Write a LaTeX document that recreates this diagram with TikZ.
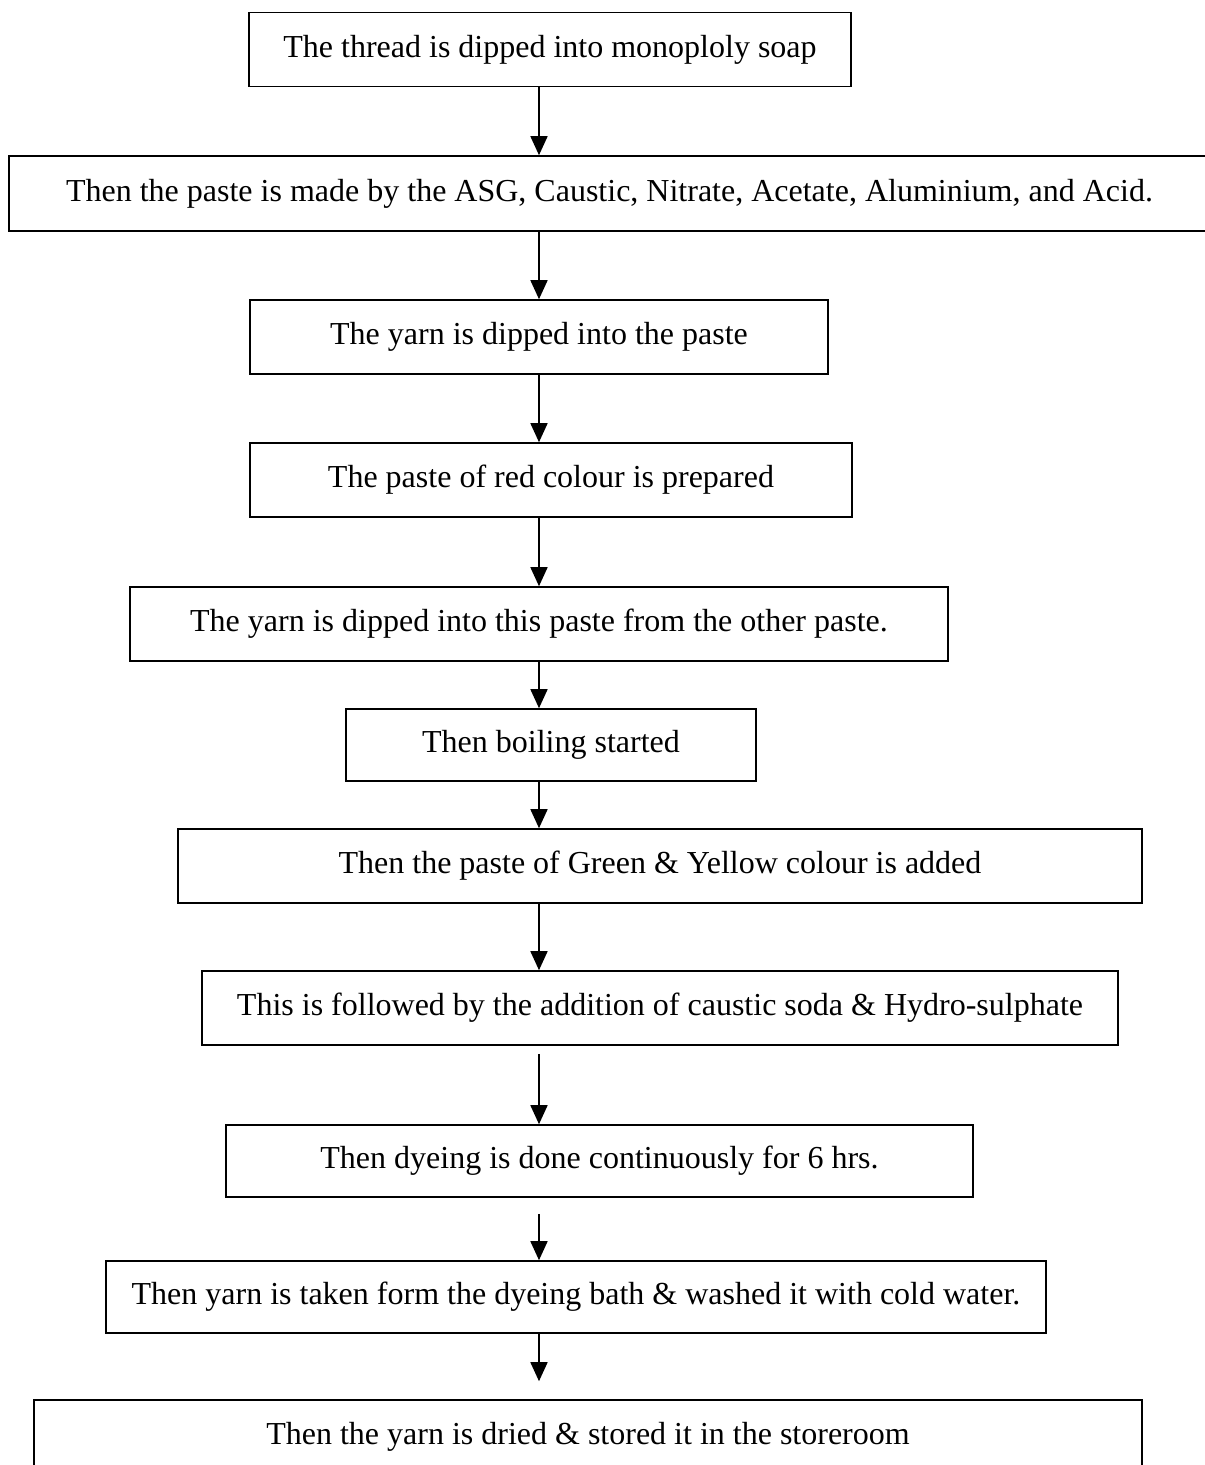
\documentclass[tikz,border=0pt]{standalone}
\usepackage{fontspec}
\setmainfont{Liberation Serif}
\usepackage{tikz}
\usetikzlibrary{arrows.meta}
\definecolor{inkblack}{RGB}{0, 0, 0}

\begin{document}
\begin{tikzpicture}[
    x=1pt, y=-1pt,
    stepbox/.style={draw=inkblack, line width=1.6pt, inner sep=0pt,
                    minimum height=74pt, align=center,
                    font=\fontsize{32}{38}\selectfont},
    flow/.style={draw=inkblack, line width=1.6pt,
                 -{Triangle[length=19pt, width=17pt]}}
]
    \useasboundingbox (0,0) rectangle (1205,1465);
    \coordinate (spine) at (539,0);

    % Steps of the process
    \node[stepbox, minimum width=602pt] (soap) at (550,49.5)
        {The thread is dipped into monoploly soap};
    \node[stepbox, minimum width=1201pt, minimum height=75pt] (paste) at (609.5,193.5)
        {Then the paste is made by the ASG, Caustic, Nitrate, Acetate, Aluminium, and Acid.};
    \node[stepbox, minimum width=578pt] (dip) at (539,337)
        {The yarn is dipped into the paste};
    \node[stepbox, minimum width=602pt] (red) at (551,480)
        {The paste of red colour is prepared};
    \node[stepbox, minimum width=818pt] (redip) at (539,624)
        {The yarn is dipped into this paste from the other paste.};
    \node[stepbox, minimum width=410pt, minimum height=72pt] (boil) at (551,745)
        {Then boiling started};
    \node[stepbox, minimum width=964pt] (green) at (660,866)
        {Then the paste of Green \& Yellow colour is added};
    \node[stepbox, minimum width=916pt] (soda) at (660,1008)
        {This is followed by the addition of caustic soda \& Hydro-sulphate};
    \node[stepbox, minimum width=747pt, minimum height=72pt] (dyeing) at (599.5,1161)
        {Then dyeing is done continuously for 6 hrs.};
    \node[stepbox, minimum width=940pt, minimum height=72pt] (wash) at (576,1297)
        {Then yarn is taken form the dyeing bath \& washed it with cold water.};
    \node[stepbox, minimum width=1108pt] (store) at (588,1437)
        {Then the yarn is dried \& stored it in the storeroom};

    % Arrows down the middle
    \draw[flow] (soap.south -| spine) -- (paste.north -| spine);
    \draw[flow] (paste.south -| spine) -- (dip.north -| spine);
    \draw[flow] (dip.south -| spine) -- (red.north -| spine);
    \draw[flow] (red.south -| spine) -- (redip.north -| spine);
    \draw[flow] (redip.south -| spine) -- (boil.north -| spine);
    \draw[flow] (boil.south -| spine) -- (green.north -| spine);
    \draw[flow] (green.south -| spine) -- (soda.north -| spine);
    \draw[flow, shorten <=8pt] (soda.south -| spine) -- (dyeing.north -| spine);
    \draw[flow, shorten <=16pt] (dyeing.south -| spine) -- (wash.north -| spine);
    \draw[flow, shorten >=18pt] (wash.south -| spine) -- (store.north -| spine);
\end{tikzpicture}
\end{document}
